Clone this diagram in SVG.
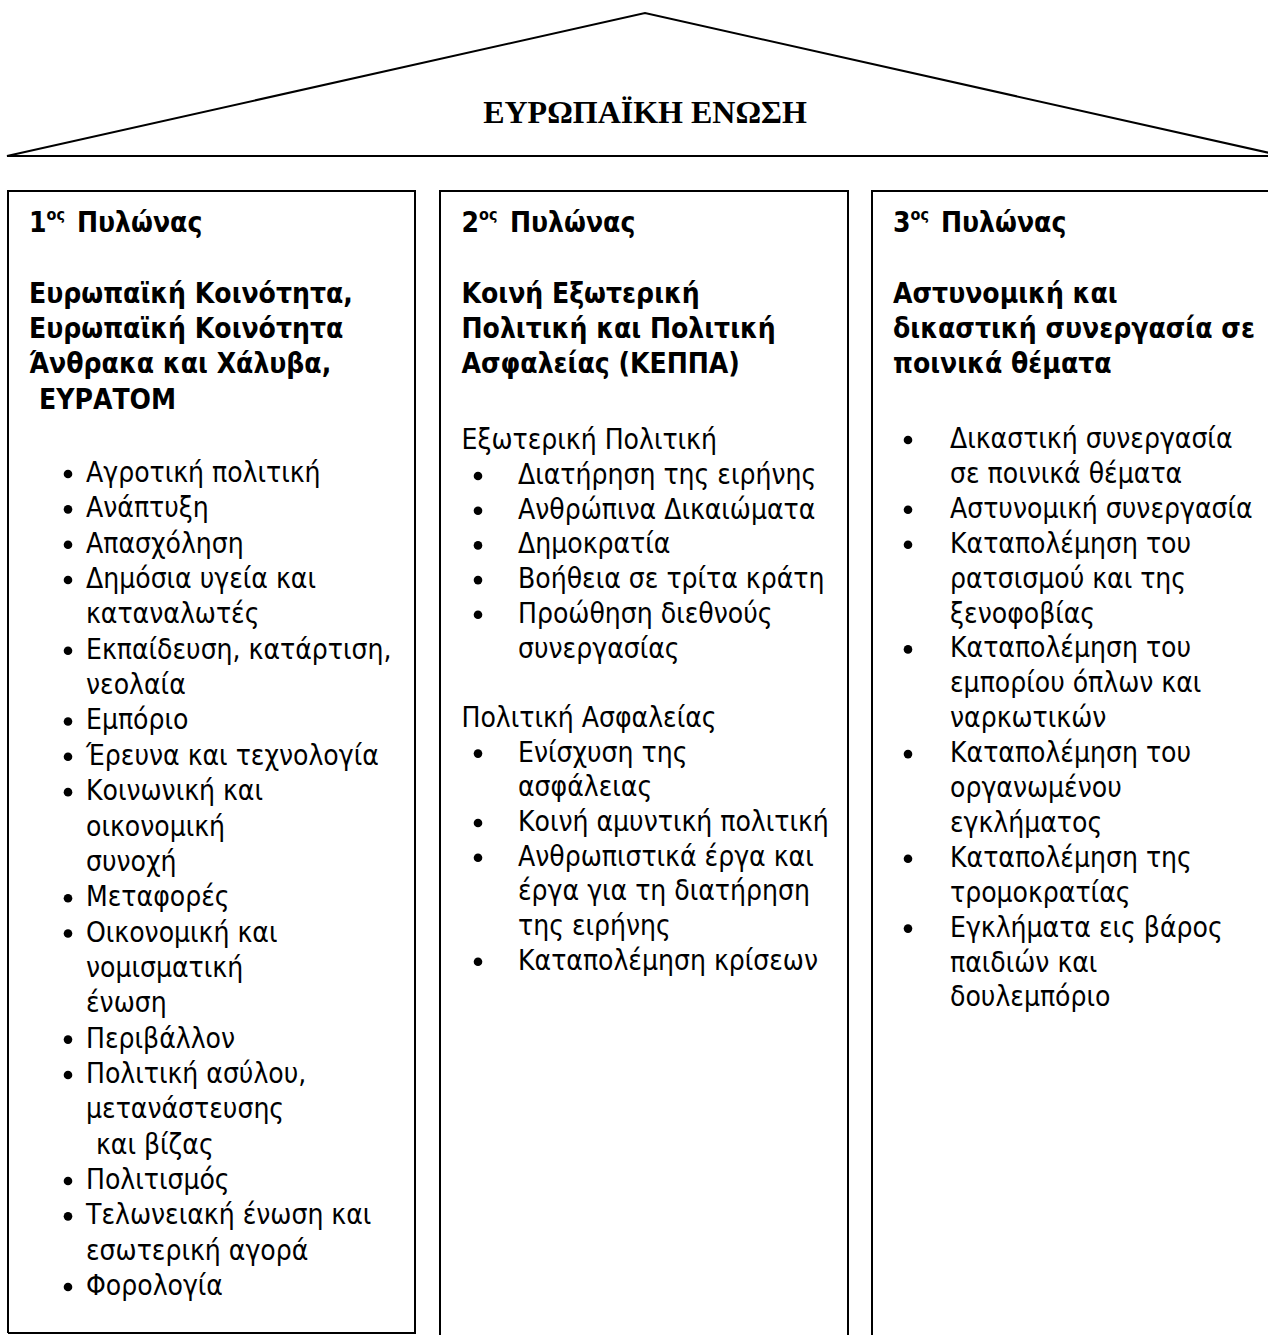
<svg xmlns="http://www.w3.org/2000/svg" width="1268" height="1335" viewBox="0 0 1268 1335">
<style>
.ln{fill:none;stroke:#000;stroke-width:2}
.t{font-family:"DejaVu Sans Condensed","DejaVu Sans",sans-serif;font-size:28px;fill:#000}
.b{font-weight:bold}
.sup{font-size:16px}
.title{font-family:"Liberation Serif","Times New Roman",serif;font-weight:bold;font-size:32px;fill:#000}
.dot{fill:#000}
</style>
<rect width="1268" height="1335" fill="#fff"/>
<g id="roof">
<polygon class="ln" points="7,156 645,13 1283,156"/>
<text class="title" x="645" y="123" text-anchor="middle">ΕΥΡΩΠΑΪΚΗ ΕΝΩΣΗ</text>
</g>
<g id="connectors"></g>
<g id="pillar1">
<polyline class="ln" points="8,1333 8,191 415,191 415,1333 8,1333"/>
<text class="t b" x="29" y="232">1<tspan class="sup" dy="-12">ος</tspan><tspan x="77" dy="12">Πυλώνας</tspan></text>
<text class="t b" x="29" y="302.5">Ευρωπαϊκή Κοινότητα,</text>
<text class="t b" x="29" y="338">Ευρωπαϊκή Κοινότητα</text>
<text class="t b" x="29" y="373">Άνθρακα και Χάλυβα,</text>
<text class="t b" x="39" y="408.5">ΕΥΡΑΤΟΜ</text>
<g class="dot">
<circle cx="68" cy="474" r="4.3"/>
<circle cx="68" cy="509.35" r="4.3"/>
<circle cx="68" cy="544.7" r="4.3"/>
<circle cx="68" cy="580.05" r="4.3"/>
<circle cx="68" cy="650.75" r="4.3"/>
<circle cx="68" cy="721.45" r="4.3"/>
<circle cx="68" cy="756.8" r="4.3"/>
<circle cx="68" cy="792.15" r="4.3"/>
<circle cx="68" cy="898.2" r="4.3"/>
<circle cx="68" cy="933.55" r="4.3"/>
<circle cx="68" cy="1039.6" r="4.3"/>
<circle cx="68" cy="1074.95" r="4.3"/>
<circle cx="68" cy="1181" r="4.3"/>
<circle cx="68" cy="1216.35" r="4.3"/>
<circle cx="68" cy="1287.05" r="4.3"/>
</g>
<text class="t" x="86" y="482">Αγροτική πολιτική</text>
<text class="t" x="86" y="517.35">Ανάπτυξη</text>
<text class="t" x="86" y="552.7">Απασχόληση</text>
<text class="t" x="86" y="588.05">Δημόσια υγεία και</text>
<text class="t" x="86" y="623.4">καταναλωτές</text>
<text class="t" x="86" y="658.75">Εκπαίδευση, κατάρτιση,</text>
<text class="t" x="86" y="694.1">νεολαία</text>
<text class="t" x="86" y="729.45">Εμπόριο</text>
<text class="t" x="86" y="764.8">Έρευνα και τεχνολογία</text>
<text class="t" x="86" y="800.15">Κοινωνική και</text>
<text class="t" x="86" y="835.5">οικονομική</text>
<text class="t" x="86" y="870.85">συνοχή</text>
<text class="t" x="86" y="906.2">Μεταφορές</text>
<text class="t" x="86" y="941.55">Οικονομική και</text>
<text class="t" x="86" y="976.9">νομισματική</text>
<text class="t" x="86" y="1012.25">ένωση</text>
<text class="t" x="86" y="1047.6">Περιβάλλον</text>
<text class="t" x="86" y="1082.95">Πολιτική ασύλου,</text>
<text class="t" x="86" y="1118.3">μετανάστευσης</text>
<text class="t" x="96" y="1153.65">και βίζας</text>
<text class="t" x="86" y="1189">Πολιτισμός</text>
<text class="t" x="86" y="1224.35">Τελωνειακή ένωση και</text>
<text class="t" x="86" y="1259.7">εσωτερική αγορά</text>
<text class="t" x="86" y="1295.05">Φορολογία</text>
</g>
<g id="pillar2">
<polyline class="ln" points="440,1340 440,191 848,191 848,1340"/>
<text class="t b" x="461.5" y="232">2<tspan class="sup" dy="-12">ος</tspan><tspan x="510" dy="12">Πυλώνας</tspan></text>
<text class="t b" x="461.5" y="302.5">Κοινή Εξωτερική</text>
<text class="t b" x="461.5" y="338">Πολιτική και Πολιτική</text>
<text class="t b" x="461.5" y="373">Ασφαλείας (ΚΕΠΠΑ)</text>
<text class="t" x="461.5" y="449.3">Εξωτερική Πολιτική</text>
<g class="dot">
<circle cx="478" cy="476" r="4.3"/>
<circle cx="478" cy="510.7" r="4.3"/>
<circle cx="478" cy="545.4" r="4.3"/>
<circle cx="478" cy="580.1" r="4.3"/>
<circle cx="478" cy="614.8" r="4.3"/>
<circle cx="478" cy="753.6" r="4.3"/>
<circle cx="478" cy="823" r="4.3"/>
<circle cx="478" cy="857.7" r="4.3"/>
<circle cx="478" cy="961.8" r="4.3"/>
</g>
<text class="t" x="518" y="484">Διατήρηση της ειρήνης</text>
<text class="t" x="518" y="518.7">Ανθρώπινα Δικαιώματα</text>
<text class="t" x="518" y="553.4">Δημοκρατία</text>
<text class="t" x="518" y="588.1">Βοήθεια σε τρίτα κράτη</text>
<text class="t" x="518" y="622.8">Προώθηση διεθνούς</text>
<text class="t" x="518" y="657.5">συνεργασίας</text>
<text class="t" x="461.5" y="726.9">Πολιτική Ασφαλείας</text>
<text class="t" x="518" y="761.6">Ενίσχυση της</text>
<text class="t" x="518" y="796.3">ασφάλειας</text>
<text class="t" x="518" y="831">Κοινή αμυντική πολιτική</text>
<text class="t" x="518" y="865.7">Ανθρωπιστικά έργα και</text>
<text class="t" x="518" y="900.4">έργα για τη διατήρηση</text>
<text class="t" x="518" y="935.1">της ειρήνης</text>
<text class="t" x="518" y="969.8">Καταπολέμηση κρίσεων</text>
</g>
<g id="pillar3">
<polyline class="ln" points="872,1340 872,191 1275,191"/>
<text class="t b" x="893" y="232">3<tspan class="sup" dy="-12">ος</tspan><tspan x="941" dy="12">Πυλώνας</tspan></text>
<text class="t b" x="893" y="302.5">Αστυνομική και</text>
<text class="t b" x="893" y="338">δικαστική συνεργασία σε</text>
<text class="t b" x="893" y="373">ποινικά θέματα</text>
<g class="dot">
<circle cx="908" cy="440" r="4.3"/>
<circle cx="908" cy="509.8" r="4.3"/>
<circle cx="908" cy="544.7" r="4.3"/>
<circle cx="908" cy="649.4" r="4.3"/>
<circle cx="908" cy="754.1" r="4.3"/>
<circle cx="908" cy="858.8" r="4.3"/>
<circle cx="908" cy="928.6" r="4.3"/>
</g>
<text class="t" x="950" y="448">Δικαστική συνεργασία</text>
<text class="t" x="950" y="482.9">σε ποινικά θέματα</text>
<text class="t" x="950" y="517.8">Αστυνομική συνεργασία</text>
<text class="t" x="950" y="552.7">Καταπολέμηση του</text>
<text class="t" x="950" y="587.6">ρατσισμού και της</text>
<text class="t" x="950" y="622.5">ξενοφοβίας</text>
<text class="t" x="950" y="657.4">Καταπολέμηση του</text>
<text class="t" x="950" y="692.3">εμπορίου όπλων και</text>
<text class="t" x="950" y="727.2">ναρκωτικών</text>
<text class="t" x="950" y="762.1">Καταπολέμηση του</text>
<text class="t" x="950" y="797">οργανωμένου</text>
<text class="t" x="950" y="831.9">εγκλήματος</text>
<text class="t" x="950" y="866.8">Καταπολέμηση της</text>
<text class="t" x="950" y="901.7">τρομοκρατίας</text>
<text class="t" x="950" y="936.6">Εγκλήματα εις βάρος</text>
<text class="t" x="950" y="971.5">παιδιών και</text>
<text class="t" x="950" y="1006.4">δουλεμπόριο</text>
</g>
</svg>
